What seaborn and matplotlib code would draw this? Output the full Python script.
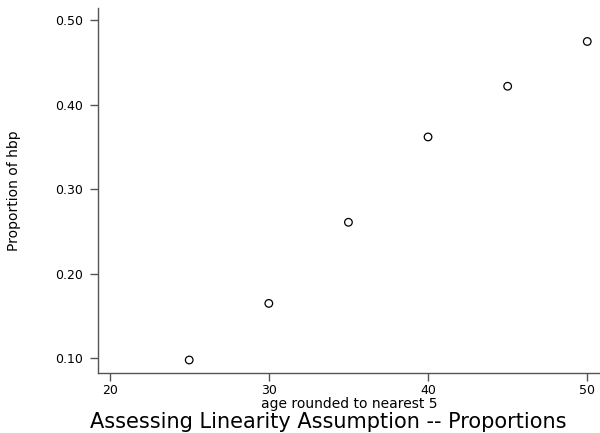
import matplotlib
matplotlib.use("Agg")
import matplotlib.pyplot as plt
import seaborn as sns
import pandas as pd

# Proportion with high blood pressure by age group
age = [25, 30, 35, 40, 45, 50]
prop_hbp = [0.098, 0.165, 0.261, 0.362, 0.422, 0.475]
x_ticks = [20, 30, 40, 50]
y_ticks = [0.10, 0.20, 0.30, 0.40, 0.50]

df = pd.DataFrame({"age": age, "prop": prop_hbp})

sns.set_theme(style="ticks")
plt.rcParams["font.family"] = ["DejaVu Sans"]

fig = plt.figure(figsize=(6, 4.33), dpi=100)
ax = fig.add_axes([0.1633, 0.1393, 0.8367, 0.8422])

sns.scatterplot(data=df, x="age", y="prop", ax=ax, marker="o", s=30,
                facecolor="none", edgecolor="black", linewidth=0.9)

ax.set_xlim(19.27, 50.8)
ax.set_ylim(0.083, 0.5146)
ax.set_xticks(x_ticks)
ax.set_xticklabels([str(v) for v in x_ticks])
ax.set_yticks(y_ticks)
ax.set_yticklabels([f"{v:.2f}" for v in y_ticks])

for side in ("top", "right"):
    ax.spines[side].set_visible(False)
for side in ("left", "bottom"):
    ax.spines[side].set_color("#555555")
    ax.spines[side].set_linewidth(1.0)
ax.tick_params(axis="both", direction="out", length=5.5, width=1.0,
               color="#555555", labelsize=9, labelcolor="black")
ax.tick_params(axis="y", pad=5)
ax.tick_params(axis="x", pad=3)

ax.set_xlabel("age rounded to nearest 5", fontsize=10, labelpad=0, color="black")
ax.set_ylabel("Proportion of hbp", fontsize=10, color="black")
ax.yaxis.set_label_coords(-0.167, 0.5)
ax.yaxis.label.set_va("center")

fig.text(0.5475, 0.012, "Assessing Linearity Assumption -- Proportions",
         ha="center", va="baseline", fontsize=15, color="black")

fig.savefig("out.png", dpi=100, facecolor="white")
